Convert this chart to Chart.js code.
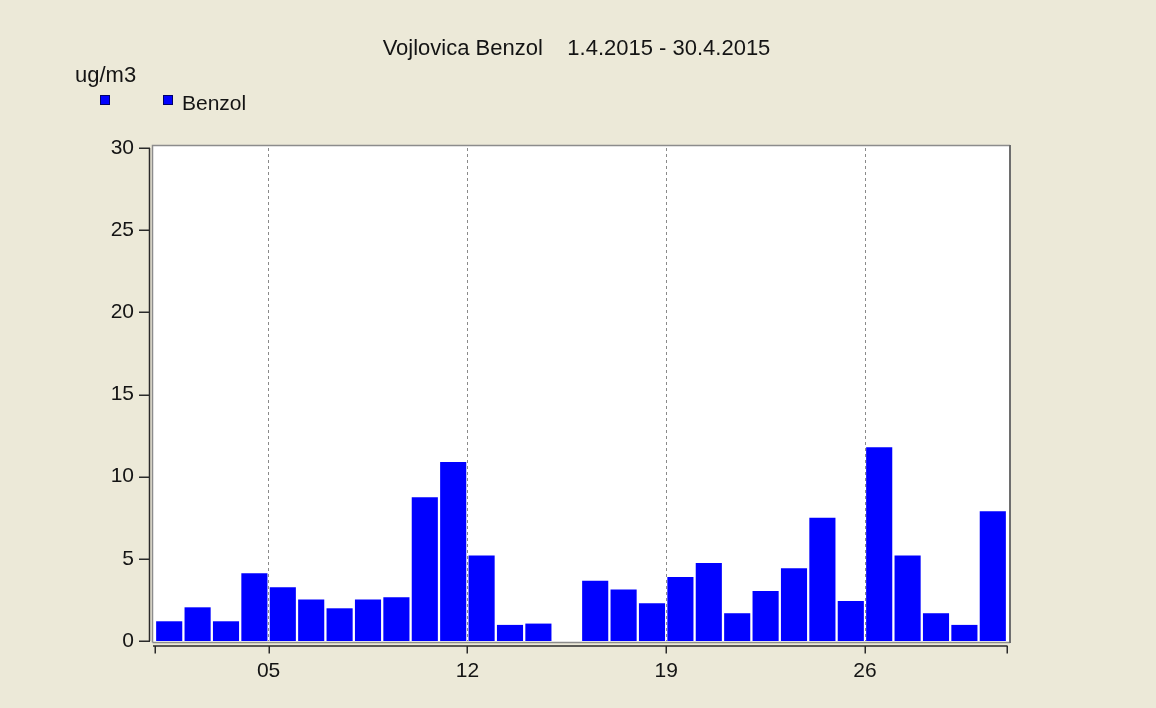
<!DOCTYPE html>
<html>
<head>
<meta charset="utf-8">
<script src="https://cdn.jsdelivr.net/npm/chart.js@4.4.1/dist/chart.umd.min.js"></script>
<style>
  html, body { margin: 0; padding: 0; background: #ECE9D8; }
  #wrap { width: 1156px; height: 708px; position: relative; }
</style>
</head>
<body>
<div id="wrap"><canvas id="c"></canvas></div>
<script>
// ---- data ----
const days = [1,2,3,4,5,6,7,8,9,10,11,12,13,14,15,16,17,18,19,20,21,22,23,24,25,26,27,28,29,30];
const benzol = [1.2, 2.05, 1.2, 4.13, 3.27, 2.52, 1.99, 2.52, 2.66, 8.74,
                10.9, 5.2, 0.98, 1.06, null, 3.66, 3.13, 2.3, 3.9, 4.74,
                1.69, 3.05, 4.43, 7.5, 2.44, 11.79, 5.2, 1.69, 0.98, 7.89];
const xTickPositions = [0, 4, 11, 18, 25, 30];
const xTickLabels = ['', '05', '12', '19', '26', ''];
const yTickValues = [0, 5, 10, 15, 20, 25, 30];
const titleText = 'Vojlovica Benzol    1.4.2015 - 30.4.2015';
const unitText = 'ug/m3';
const seriesName = 'Benzol';

const FONT = '"Liberation Sans", Arial, sans-serif';
const BAR_COLOR = '#0000FF';

const decor = {
  id: 'decor',
  beforeDraw(chart) {
    const { ctx, chartArea: a } = chart;
    ctx.save();
    ctx.fillStyle = '#FFFFFF';
    ctx.fillRect(a.left - 3, a.top - 3, a.right - a.left + 6, a.bottom - a.top + 5);
    ctx.restore();
  },
  afterDraw(chart) {
    const { ctx, chartArea: a, scales } = chart;
    const x = scales.x, y = scales.y;
    ctx.save();
    // plot frame
    ctx.strokeStyle = '#8C8C8C';
    ctx.lineWidth = 1.5;
    ctx.beginPath();
    ctx.moveTo(a.left - 2.5, a.bottom + 1.5);
    ctx.lineTo(a.left - 2.5, a.top - 2.5);
    ctx.lineTo(a.right + 3, a.top - 2.5);
    ctx.moveTo(a.left - 2.5, a.bottom + 1.5);
    ctx.lineTo(a.right + 3, a.bottom + 1.5);
    ctx.stroke();
    ctx.strokeStyle = '#6E6E6E';
    ctx.lineWidth = 2;
    ctx.beginPath();
    ctx.moveTo(a.right + 3, a.top - 3);
    ctx.lineTo(a.right + 3, a.bottom + 2);
    ctx.stroke();

    // y axis line + ticks
    ctx.strokeStyle = '#2A2A2A';
    ctx.lineWidth = 1.5;
    const yTop = y.getPixelForValue(y.max), yBot = y.getPixelForValue(y.min);
    ctx.beginPath();
    ctx.moveTo(a.left - 5.5, yTop);
    ctx.lineTo(a.left - 5.5, yBot);
    yTickValues.forEach(v => {
      const py = Math.round(y.getPixelForValue(v)) + 0.25;
      ctx.moveTo(a.left - 16, py);
      ctx.lineTo(a.left - 5, py);
    });
    ctx.stroke();

    // x axis line + ticks
    const ax = a.bottom + 5;
    ctx.beginPath();
    ctx.moveTo(a.left - 2, ax);
    ctx.lineTo(x.getPixelForValue(x.max) + 0.5, ax);
    xTickPositions.forEach(v => {
      const px = Math.round(x.getPixelForValue(v)) + 0.25;
      ctx.moveTo(px, ax);
      ctx.lineTo(px, ax + 7.5);
    });
    ctx.stroke();

    // title
    ctx.fillStyle = '#141414';
    ctx.font = '22px ' + FONT;
    ctx.textBaseline = 'alphabetic';
    ctx.textAlign = 'center';
    ctx.fillText(titleText, 576.5, 55);

    // unit
    ctx.textAlign = 'left';
    ctx.fillText(unitText, 75, 82);

    // legend
    const ds = chart.data.datasets[0];
    [[100, 95], [163, 95]].forEach(([lx, ly]) => {
      ctx.fillStyle = ds.backgroundColor;
      ctx.fillRect(lx, ly, 10, 10);
      ctx.strokeStyle = '#00006A';
      ctx.lineWidth = 1;
      ctx.strokeRect(lx + 0.5, ly + 0.5, 9, 9);
    });
    ctx.fillStyle = '#141414';
    ctx.font = '21px ' + FONT;
    ctx.fillText(ds.label, 182, 110);
    ctx.restore();
  }
};

new Chart(document.getElementById('c'), {
  type: 'bar',
  data: {
    datasets: [{
      label: seriesName,
      data: days.map((d, i) => ({ x: d - 0.5, y: benzol[i] })),
      backgroundColor: BAR_COLOR,
      borderWidth: 0,
      barPercentage: 0.92,
      categoryPercentage: 1.0
    }]
  },
  options: {
    responsive: true,
    maintainAspectRatio: false,
    animation: false,
    layout: { padding: { left: 95, right: 149, top: 148, bottom: 27 } },
    plugins: {
      legend: { display: false },
      title: { display: false },
      tooltip: { enabled: false }
    },
    scales: {
      x: {
        type: 'linear',
        min: 0,
        max: 30,
        offset: false,
        afterBuildTicks(scale) {
          scale.ticks = xTickPositions.map(v => ({ value: v }));
        },
        afterFit(scale) { scale.height = 40; },
        ticks: {
          autoSkip: false,
          maxRotation: 0,
          padding: 18,
          color: '#141414',
          font: { family: FONT, size: 21 },
          callback(value) {
            const i = xTickPositions.indexOf(value);
            return i >= 0 ? xTickLabels[i] : '';
          }
        },
        grid: {
          offset: false,
          drawTicks: false,
          tickLength: 0,
          color(ctx) {
            const v = ctx.tick ? ctx.tick.value : null;
            return (v === xTickPositions[0] || v === xTickPositions[xTickPositions.length - 1]) ? 'rgba(0,0,0,0)' : '#8A8A8A';
          },
          lineWidth: 1,
          borderDash: [3, 3]
        },
        border: { display: false, dash: [3, 3] }
      },
      y: {
        min: 0,
        max: 30,
        afterBuildTicks(scale) {
          scale.ticks = yTickValues.map(v => ({ value: v }));
        },
        afterFit(scale) { scale.width = 60; },
        ticks: {
          padding: 21,
          color: '#141414',
          font: { family: FONT, size: 21 }
        },
        grid: { display: false, drawTicks: false, tickLength: 0 },
        border: { display: false }
      }
    }
  },
  plugins: [decor]
});
</script>
</body>
</html>
